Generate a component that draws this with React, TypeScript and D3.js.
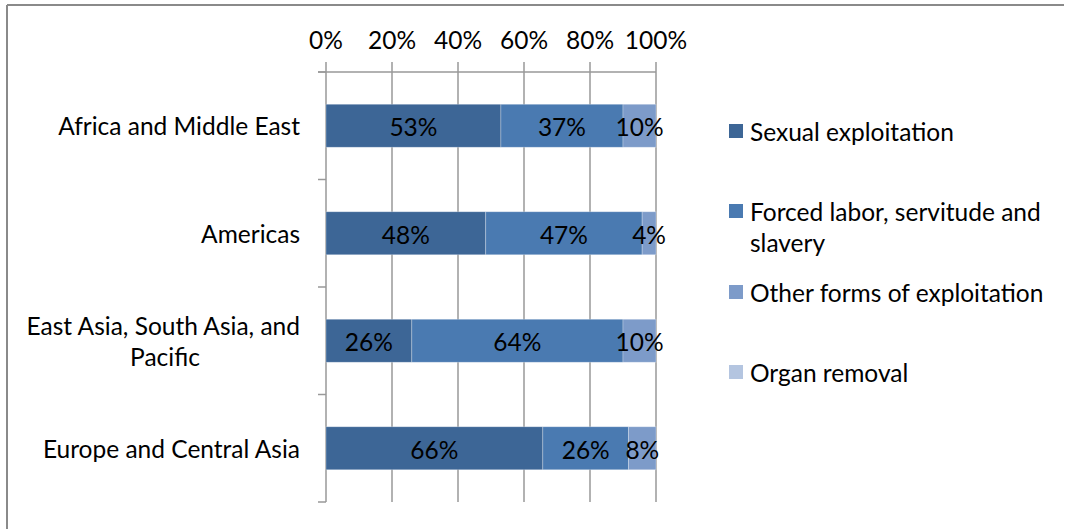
import React from "react";
import * as d3 from "d3";

const categories = [
  "Africa and Middle East",
  "Americas",
  "East Asia, South Asia, and Pacific",
  "Europe and Central Asia",
];
const categoryLines = [
  ["Africa and Middle East"],
  ["Americas"],
  ["East Asia, South Asia, and", "Pacific"],
  ["Europe and Central Asia"],
];
const seriesNames = [
  "Sexual exploitation",
  "Forced labor, servitude and slavery",
  "Other forms of exploitation",
  "Organ removal",
];
const legendLines = [
  ["Sexual exploitation"],
  ["Forced labor, servitude and", "slavery"],
  ["Other forms of exploitation"],
  ["Organ removal"],
];
const sexual = [53, 48.4, 26, 65.7];
const forced = [37, 47.4, 64, 26];
const other = [10, 4.2, 10, 8.3];
const organ = [0, 0, 0, 0];
const xTicks = [0, 20, 40, 60, 80, 100];
const colors = ["#3D6696", "#4A7AB1", "#7D9BC9", "#B4C5E0"];

const FONT = "Lato, 'Open Sans', sans-serif";
const FS = 24.5;

export default function App() {
  const W = 1065, H = 529;
  const left = 326, right = 656, top = 72, bottom = 502;
  const x = d3.scaleLinear().domain([0, 100]).range([left, right]);
  const y = d3.scaleBand<string>().domain(categories).range([top, bottom]).paddingInner(0.6).paddingOuter(0.3);
  const step = y.step();

  const rows = categories.map((c, i) => ({
    cat: c,
    s0: sexual[i],
    s1: forced[i],
    s2: other[i],
    s3: organ[i],
  }));
  const keys = ["s0", "s1", "s2", "s3"];
  const stacked = d3.stack<any>().keys(keys)(rows);

  const legendX = 729, legendTextX = 750;
  const legendY = [131, 211, 292, 372];

  return (
    <svg width={W} height={H} style={{ position: "absolute", left: 0, top: 0, background: "#fff" }} fontFamily={FONT}>
      <rect x={0} y={0} width={W} height={H} fill="#fff" />
      {/* outer border */}
      <line x1={7} y1={5} x2={1064} y2={5} stroke="#8a8a8a" strokeWidth={2} />
      <line x1={7} y1={5} x2={7} y2={H} stroke="#8a8a8a" strokeWidth={2} />

      {/* grid lines + top ticks */}
      {xTicks.map((t) => (
        <line key={"g" + t} x1={x(t)} x2={x(t)} y1={top - 10} y2={bottom} stroke="#999" strokeWidth={1.5} />
      ))}
      {/* top axis line */}
      <line x1={left - 8} x2={right} y1={top} y2={top} stroke="#999" strokeWidth={1.5} />
      {/* left axis ticks */}
      {d3.range(categories.length + 1).map((i) => (
        <line key={"lt" + i} x1={left - 8} x2={left} y1={top + i * step} y2={top + i * step} stroke="#999" strokeWidth={1.5} />
      ))}

      {/* tick labels */}
      {xTicks.map((t) => (
        <text key={"tl" + t} x={x(t)} y={39} textAnchor="middle" dominantBaseline="central" fontSize={FS} fill="#000">
          {t + "%"}
        </text>
      ))}

      {/* bars */}
      {stacked.map((layer, si) => (
        <g key={"l" + si}>
          {layer.map((d, ci) => {
            const v = d[1] - d[0];
            if (v <= 0) return null;
            const yy = y(categories[ci])!;
            return (
              <rect key={ci} x={x(d[0])} y={yy} width={x(d[1]) - x(d[0])} height={y.bandwidth()} fill={colors[si]} stroke="rgba(255,255,255,0.35)" strokeWidth={0.8} />
            );
          })}
        </g>
      ))}
      {/* bar labels */}
      {stacked.map((layer, si) => (
        <g key={"bl" + si}>
          {layer.map((d, ci) => {
            const v = d[1] - d[0];
            if (v <= 0) return null;
            const yy = y(categories[ci])! + y.bandwidth() / 2;
            return (
              <text key={ci} x={(x(d[0]) + x(d[1])) / 2} y={yy + 1} textAnchor="middle" dominantBaseline="central" fontSize={FS} fill="#000">
                {Math.round(v) + "%"}
              </text>
            );
          })}
        </g>
      ))}

      {/* category labels */}
      {categories.map((c, ci) => {
        const lines = categoryLines[ci];
        const cy = y(c)! + y.bandwidth() / 2;
        if (lines.length === 1) {
          return (
            <text key={c} x={300} y={cy} textAnchor="end" dominantBaseline="central" fontSize={FS} fill="#000">
              {lines[0]}
            </text>
          );
        }
        return (
          <g key={c}>
            <text x={300} y={cy - 15} textAnchor="end" dominantBaseline="central" fontSize={FS} fill="#000">{lines[0]}</text>
            <text x={165} y={cy + 16} textAnchor="middle" dominantBaseline="central" fontSize={FS} fill="#000">{lines[1]}</text>
          </g>
        );
      })}

      {/* legend */}
      {seriesNames.map((n, i) => (
        <g key={n}>
          <rect x={legendX} y={legendY[i] - 7} width={14} height={14} fill={colors[i]} />
          {legendLines[i].map((ln, li) => (
            <text key={li} x={legendTextX} y={legendY[i] + li * 31} dominantBaseline="central" fontSize={FS} fill="#000">
              {ln}
            </text>
          ))}
        </g>
      ))}
    </svg>
  );
}
